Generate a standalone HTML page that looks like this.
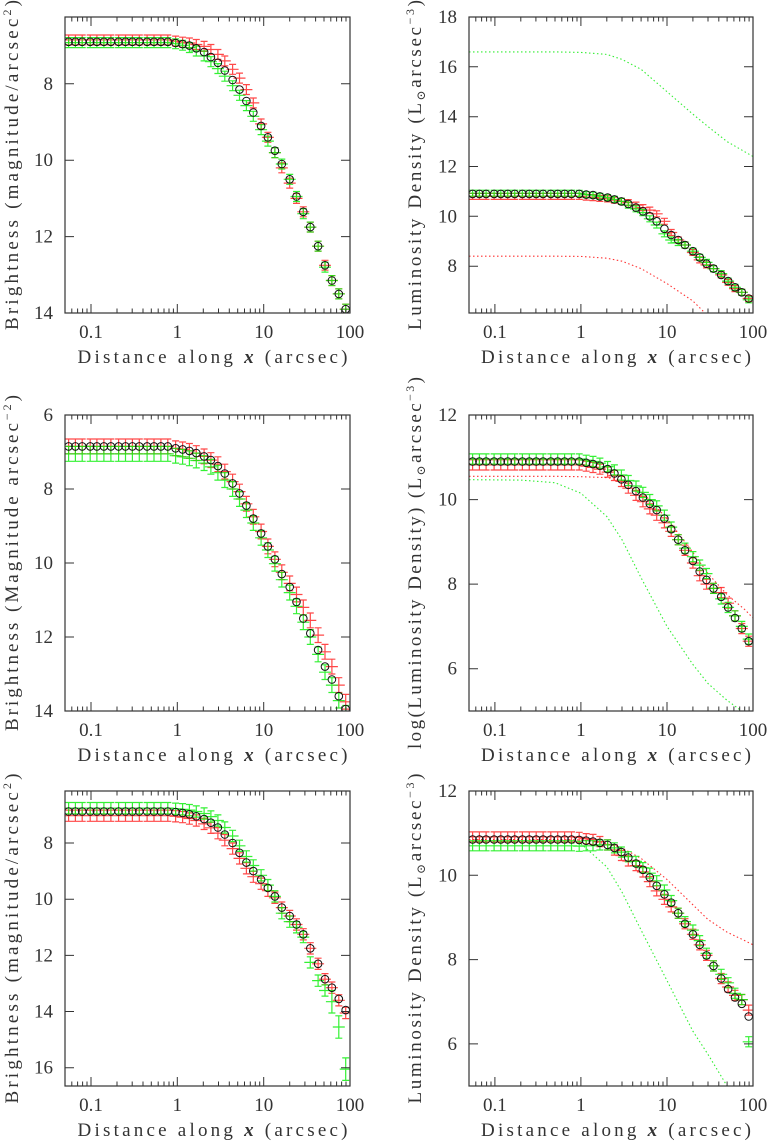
<!DOCTYPE html>
<html><head><meta charset="utf-8"><style>
html,body{margin:0;padding:0;background:#fff;}
svg{display:block;}
text{font-family:"Liberation Serif","DejaVu Serif",serif;fill:#333;font-weight:normal;}
</style></head><body>
<svg id="fig" width="771" height="1142" viewBox="0 0 771 1142" xmlns="http://www.w3.org/2000/svg"></svg>
<script>
const radii=[0.055,0.066,0.079,0.098,0.117,0.141,0.170,0.209,0.251,0.302,0.363,0.447,0.537,0.646,0.776,0.955,1.15,1.38,1.66,2.04,2.45,2.95,3.55,4.37,5.25,6.31,7.59,9.33,11.2,13.5,16.2,20.0,24.0,28.8,34.7,42.7,51.3,61.7,74.1,89.1];
const xTickValues=[0.1,1,10,100];
const xTickLabels=["0.1","1","10","100"];
const modelX1=[0.05,0.5,1,2,3,5,10,20,30,50,100];
const modelX2=[0.05,0.2,0.5,1,2,3,5,10,20,30,50,80,100];

const p1Black=[6.9,6.9,6.9,6.9,6.9,6.9,6.9,6.9,6.9,6.9,6.9,6.9,6.9,6.9,6.9,6.93,6.96,7.0,7.07,7.17,7.3,7.45,7.65,7.9,8.15,8.45,8.75,9.1,9.4,9.75,10.1,10.5,10.95,11.35,11.75,12.25,12.75,13.15,13.5,13.9];
const p1RedOff=[-0.05,-0.05,-0.05,-0.05,-0.05,-0.05,-0.05,-0.05,-0.05,-0.05,-0.05,-0.05,-0.05,-0.05,-0.05,-0.05,-0.05,-0.07,-0.1,-0.15,-0.2,-0.22,-0.25,-0.28,-0.3,-0.3,-0.25,-0.05,0,0.05,0.1,0.1,0.05,0,0,0,0,0,0,0];
const p1GreenOff=[0.02,0.02,0.02,0.02,0.02,0.02,0.02,0.02,0.02,0.02,0.02,0.02,0.02,0.02,0.02,0.02,0.03,0.05,0.07,0.1,0.12,0.15,0.15,0.15,0.15,0.12,0.1,0.1,0.1,0.05,0,0,0,0.05,0,0,0.05,0,0,0];

const p2Black=[10.9,10.9,10.9,10.9,10.9,10.9,10.9,10.9,10.9,10.9,10.9,10.9,10.9,10.9,10.9,10.9,10.87,10.85,10.8,10.75,10.68,10.6,10.5,10.35,10.2,10.0,9.8,9.5,9.25,9.05,8.85,8.6,8.35,8.1,7.9,7.65,7.4,7.15,6.95,6.7];
const p2RedOff=[-0.1,-0.1,-0.1,-0.1,-0.1,-0.1,-0.1,-0.1,-0.1,-0.1,-0.1,-0.1,-0.1,-0.1,-0.1,-0.1,-0.1,-0.1,-0.08,-0.05,-0.03,0,0.05,0.1,0.15,0.25,0.3,0.3,0.1,0,0,-0.05,-0.1,-0.05,0,0,-0.05,-0.05,0,0];
const p2GreenOff=[0.03,0.03,0.03,0.03,0.03,0.03,0.03,0.03,0.03,0.03,0.03,0.03,0.03,0.03,0.03,0.02,0,0,0,0,0,0,-0.05,-0.05,-0.05,-0.1,-0.15,-0.2,-0.2,-0.1,0,0,0,0.05,0,0.05,0,0,0,-0.05];
const p2ModelGreen=[16.6,16.6,16.58,16.5,16.3,15.9,15.0,14.1,13.6,13.0,12.4];
const p2ModelRed=[8.4,8.4,8.39,8.32,8.2,7.9,7.3,6.6,6.0,5.4,4.6];

const p3Black=[6.85,6.85,6.85,6.85,6.85,6.85,6.85,6.85,6.85,6.85,6.85,6.85,6.85,6.85,6.85,6.9,6.93,6.97,7.03,7.12,7.22,7.38,7.58,7.85,8.12,8.45,8.8,9.2,9.55,9.9,10.3,10.65,11.05,11.5,11.9,12.35,12.8,13.15,13.6,13.95];
const p3RedOff=[0,0,0,0,0,0,0,0,0,0,0,0,0,0,0,0,0,0,0,0,0,-0.05,-0.05,-0.05,-0.05,-0.05,-0.05,-0.05,0,0,-0.05,-0.1,-0.2,-0.3,-0.35,-0.4,-0.4,-0.35,-0.3,-0.2];
const p3GreenOff=[0.2,0.2,0.2,0.2,0.2,0.2,0.2,0.2,0.2,0.2,0.2,0.2,0.2,0.2,0.2,0.2,0.2,0.2,0.2,0.18,0.18,0.18,0.18,0.15,0.15,0.12,0.12,0.12,0.1,0.12,0.15,0.15,0.12,0.1,0.1,0.12,0.15,0.15,0.12,0.1];

const p4Black=[10.9,10.9,10.9,10.9,10.9,10.9,10.9,10.9,10.9,10.9,10.9,10.9,10.9,10.9,10.9,10.9,10.87,10.84,10.8,10.72,10.62,10.48,10.35,10.2,10.05,9.9,9.75,9.55,9.3,9.05,8.8,8.55,8.3,8.1,7.9,7.7,7.45,7.2,6.95,6.65];
const p4RedOff=[-0.08,-0.08,-0.08,-0.08,-0.08,-0.08,-0.08,-0.08,-0.08,-0.08,-0.08,-0.08,-0.08,-0.08,-0.08,-0.08,-0.08,-0.08,-0.08,-0.07,-0.05,-0.05,-0.08,-0.1,-0.1,-0.12,-0.12,-0.1,-0.05,0,0,-0.05,-0.1,-0.1,0,0.1,0.1,0.05,0,0];
const p4GreenOff=[0.06,0.06,0.06,0.06,0.06,0.06,0.06,0.06,0.06,0.06,0.06,0.06,0.06,0.06,0.06,0.06,0.06,0.06,0.06,0.06,0.08,0.1,0.1,0.12,0.12,0.1,0.1,0.08,0.05,0,0.05,0.1,0.15,0.15,0,-0.05,0,0.05,0.05,0.05];
const p4ModelRed=[10.55,10.55,10.55,10.54,10.52,10.45,10.2,9.55,8.75,8.25,7.75,7.4,7.2];
const p4ModelGreen=[10.47,10.46,10.4,10.15,9.6,9.05,8.15,7.0,6.1,5.65,5.25,4.95,4.8];

const p5Black=[6.88,6.88,6.88,6.88,6.88,6.88,6.88,6.88,6.88,6.88,6.88,6.88,6.88,6.88,6.88,6.9,6.93,6.98,7.05,7.15,7.28,7.45,7.7,8.0,8.35,8.7,9.0,9.3,9.6,9.9,10.3,10.6,10.9,11.25,11.75,12.3,12.85,13.15,13.55,13.95];
const p5RedOff=[0.15,0.15,0.15,0.15,0.15,0.15,0.15,0.15,0.15,0.15,0.15,0.15,0.15,0.15,0.15,0.15,0.15,0.15,0.15,0.17,0.18,0.2,0.2,0.2,0.2,0.2,0.2,0.15,0.1,0.05,0,0,0,0,0,0,0,0,0.05,0.1];
const p5GreenOff=[-0.12,-0.12,-0.12,-0.12,-0.12,-0.12,-0.12,-0.12,-0.12,-0.12,-0.12,-0.12,-0.12,-0.12,-0.12,-0.12,-0.13,-0.15,-0.17,-0.2,-0.22,-0.25,-0.25,-0.25,-0.25,-0.22,-0.2,-0.15,-0.1,0,0.2,0.2,0.1,0.1,0.5,0.6,0.4,0.5,1.0,2.1];

const p6Black=[10.85,10.85,10.85,10.85,10.85,10.85,10.85,10.85,10.85,10.85,10.85,10.85,10.85,10.85,10.85,10.84,10.82,10.8,10.77,10.72,10.65,10.55,10.42,10.28,10.13,9.95,9.75,9.55,9.35,9.1,8.85,8.6,8.35,8.1,7.85,7.55,7.3,7.1,6.95,6.65];
const p6RedOff=[0.06,0.06,0.06,0.06,0.06,0.06,0.06,0.06,0.06,0.06,0.06,0.06,0.06,0.06,0.06,0.06,0.05,0.05,0.03,0,-0.05,-0.08,-0.08,-0.05,-0.05,-0.1,-0.12,-0.12,-0.1,0,0,0,0,0,0,0,0.05,0.05,0.1,0.15];
const p6GreenOff=[-0.15,-0.15,-0.15,-0.15,-0.15,-0.15,-0.15,-0.15,-0.15,-0.15,-0.15,-0.15,-0.15,-0.15,-0.15,-0.15,-0.12,-0.1,-0.05,0,0,0,0.02,0.05,0.05,0.1,0.12,0.1,0.05,0,0.05,0.1,0.1,0.05,0,0.1,0.15,0.1,0.1,-0.6];
const p6ModelRed=[10.85,10.85,10.85,10.84,10.75,10.65,10.4,9.9,9.3,8.95,8.65,8.45,8.35];
const p6ModelGreen=[10.8,10.8,10.8,10.75,10.2,9.6,8.7,7.5,6.3,5.75,5.0,4.4,4.1];

const NS="http://www.w3.org/2000/svg";
const svg=document.getElementById('fig');
function mk(tag,attrs,parent){const e=document.createElementNS(NS,tag);for(const k in attrs)e.setAttribute(k,attrs[k]);(parent||svg).appendChild(e);return e;}

const panels=[
 {id:'p1',x0:65,x1:350,y0:17,y1:313,top:6.25,bot:14,yt:[8,10,12,14],black:p1Black,red:p1RedOff,green:p1GreenOff,err:0.13,label:['Brightness (magnitude/arcsec','2',')'],lx:18,llen:330},
 {id:'p2',x0:469,x1:753,y0:17,y1:313,top:18,bot:6.12,yt:[8,10,12,14,16,18],black:p2Black,red:p2RedOff,green:p2GreenOff,err:0.12,models:[[modelX1,p2ModelGreen,'#33ee33'],[modelX1,p2ModelRed,'#ff3333']],lum:'Luminosity Density (L',lx:421,llen:330},
 {id:'p3',x0:65,x1:350,y0:415,y1:711,top:6,bot:14,yt:[6,8,10,12,14],black:p3Black,red:p3RedOff,green:p3GreenOff,err:0.2,label:['Brightness (Magnitude arcsec','−2',')'],lx:18,llen:336},
 {id:'p4',x0:469,x1:753,y0:415,y1:711,top:12,bot:5,yt:[6,8,10,12],black:p4Black,red:p4RedOff,green:p4GreenOff,err:0.12,models:[[modelX2,p4ModelRed,'#ff3333'],[modelX2,p4ModelGreen,'#33ee33']],lum:'log(Luminosity Density) (L',lx:421,llen:372},
 {id:'p5',x0:65,x1:350,y0:791,y1:1086,top:6.15,bot:16.65,yt:[8,10,12,14,16],black:p5Black,red:p5RedOff,green:p5GreenOff,err:0.2,label:['Brightness (magnitude/arcsec','2',')'],lx:18,llen:330},
 {id:'p6',x0:469,x1:753,y0:791,y1:1086,top:12,bot:5,yt:[6,8,10,12],black:p6Black,red:p6RedOff,green:p6GreenOff,err:0.12,models:[[modelX2,p6ModelRed,'#ff3333'],[modelX2,p6ModelGreen,'#33ee33']],lum:'Luminosity Density (L',lx:421,llen:330}
];
const LMIN=Math.log10(0.05),LMAX=2;

panels.forEach(function(p){
 const xs=v=>p.x0+(Math.log10(v)-LMIN)/(LMAX-LMIN)*(p.x1-p.x0);
 const ys=v=>p.y0+(v-p.top)/(p.bot-p.top)*(p.y1-p.y0);
 const g=mk('g',{});
 
 
 const cp=mk('clipPath',{id:'clip-'+p.id},g);
 mk('rect',{x:p.x0,y:p.y0,width:p.x1-p.x0,height:p.y1-p.y0},cp);
 const plot=mk('g',{'clip-path':'url(#clip-'+p.id+')'},g);
 
 
 (p.models||[]).forEach(function(m){
  let d='';m[0].forEach((x,i)=>{d+=(i?'L':'M')+xs(x).toFixed(1)+' '+ys(m[1][i]).toFixed(1);});
  const pl=mk('path',{d:d,fill:'none',stroke:m[2],'stroke-width':1.1,'stroke-dasharray':'1.5 2.5'},plot);
  
  
 });
 [['red','#ff1a1a',p.red,0.8],['green','#11ee11',p.green,0.85]].forEach(function(s){
  let d='';
  radii.forEach(function(r,i){
   const v=p.black[i]+s[2][i];const x=xs(r),y=ys(v);
   const e=(s[0]==='green'&&p.id==='p5'&&i>=37)?0.4:p.err;
   const ya=ys(v-e),yb=ys(v+e);
   d+='M'+(x-6).toFixed(1)+' '+y.toFixed(1)+'h12M'+x.toFixed(1)+' '+ya.toFixed(1)+'V'+yb.toFixed(1)+'M'+(x-3.5).toFixed(1)+' '+ya.toFixed(1)+'h7M'+(x-3.5).toFixed(1)+' '+yb.toFixed(1)+'h7';
  });
  const ep=mk('path',{d:d,fill:'none',stroke:s[1],'stroke-width':1.2,opacity:s[3]},plot);
  
  
 });
 radii.forEach(function(r,i){
  const c=mk('circle',{cx:xs(r).toFixed(1),cy:ys(p.black[i]).toFixed(1),r:3.8,fill:'none',stroke:'#111','stroke-width':1},plot);
  
  
 });
 const fr=mk('rect',{x:p.x0,y:p.y0,width:p.x1-p.x0,height:p.y1-p.y0,fill:'none',stroke:'#333','stroke-width':1.2},g);
 
 
 let td='';
 for(let dec=-2;dec<=1;dec++){for(let k=1;k<=9;k++){const v=k*Math.pow(10,dec);if(v<0.05||v>100)continue;const x=xs(v).toFixed(1);const L=(k===1)?9:4.5;td+='M'+x+' '+p.y1+'v'+(-L)+'M'+x+' '+p.y0+'v'+L;}}
 td+='M'+xs(100).toFixed(1)+' '+p.y1+'v-9M'+xs(100).toFixed(1)+' '+p.y0+'v9';
 p.yt.forEach(v=>{const y=ys(v).toFixed(1);td+='M'+p.x0+' '+y+'h9M'+p.x1+' '+y+'h-9';});
 const tk=mk('path',{d:td,stroke:'#333','stroke-width':1,fill:'none'},g);
 
 
 xTickValues.forEach(function(v,i){
  const t=mk('text',{x:xs(v).toFixed(1),y:p.y1+25,'font-size':19,'text-anchor':'middle'},g);
  t.textContent=xTickLabels[i];
  
  
 });
 p.yt.forEach(function(v){
  const t=mk('text',{x:p.x0-12,y:(ys(v)+6).toFixed(1),'font-size':19,'text-anchor':'end'},g);
  t.textContent=String(v);
  
  
 });
 const xt=mk('text',{x:(p.x0+p.x1)/2+5,y:p.y1+50,'font-size':19,'text-anchor':'middle',textLength:270,lengthAdjust:'spacing'},g);
 xt.innerHTML='Distance along <tspan font-weight="bold" font-style="italic">x</tspan> (arcsec)';
 
 
 const cy=(p.y0+p.y1)/2;
 const yt=mk('text',{x:0,y:0,'font-size':19,'text-anchor':'middle',transform:'translate('+p.lx+','+cy+') rotate(-90)',textLength:p.llen,lengthAdjust:'spacing'},g);
 if(p.label){yt.innerHTML=p.label[0]+'<tspan font-size="12" dy="-7">'+p.label[1]+'</tspan><tspan dy="7">'+p.label[2]+'</tspan>';}
 else{yt.innerHTML=p.lum+'<tspan font-size="12" dy="4">⊙</tspan><tspan dy="-4">arcsec</tspan><tspan font-size="12" dy="-7">−3</tspan><tspan dy="7">)</tspan>';}
 
 
});
</script>
</body></html>
